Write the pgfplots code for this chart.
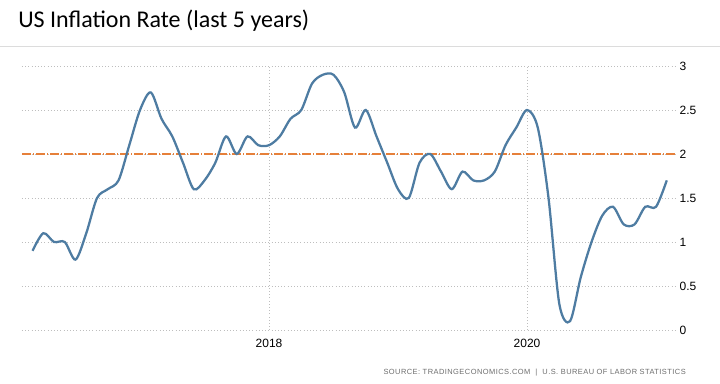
\documentclass[border=0pt]{standalone}
\usepackage{fontspec}
\usepackage{pgfplots}
\pgfplotsset{compat=1.18}
\setmainfont{Liberation Sans}
\newfontfamily\titlefont{Carlito}
\newfontfamily\srcfont[LetterSpace=6]{Liberation Sans}
\definecolor{lineblue}{RGB}{78,124,162}
\definecolor{dashorange}{RGB}{230,128,58}
\definecolor{gridgray}{RGB}{190,190,190}
\definecolor{sepgray}{RGB}{220,220,220}
\definecolor{srcgray}{RGB}{110,110,110}
\begin{document}
\begin{tikzpicture}
\useasboundingbox (0,0) rectangle (540pt,288pt);
\fill[white] (0,0) rectangle (540pt,288pt);
\node[anchor=base west, inner sep=0pt] at (13.5pt,267pt) {\titlefont\fontsize{18pt}{21pt}\selectfont US Inflation Rate (last 5 years)};
\draw[sepgray, line width=0.7pt] (0,253.5pt) -- (540pt,253.5pt);
\node[anchor=base east, inner sep=0pt, text=srcgray] at (514.5pt,6.75pt) {\srcfont\fontsize{5.6pt}{7pt}\selectfont SOURCE:\ TRADINGECONOMICS.COM\ \ |\ \ U.S.\ BUREAU\ OF\ LABOR\ STATISTICS};
\begin{axis}[
  at={(16.5pt,40.5pt)}, anchor=south west,
  scale only axis, width=490.5pt, height=198pt,
  xmin=1.02, xmax=61.86, ymin=0, ymax=3,
  clip=false,
  axis line style={draw=none},
  major tick length=0pt,
  xtick={24,48}, xticklabels={2018,2020},
  ytick={0,0.5,1,1.5,2,2.5,3},
  yticklabel pos=right,
  yticklabels={0,0.5,1,1.5,2,2.5,3},
  tick label style={font=\fontsize{9pt}{11pt}\selectfont},
  yticklabel style={anchor=west, inner sep=0pt, xshift=2.5pt},
  xticklabel style={anchor=north, inner sep=0pt, yshift=-6.5pt},
  xmajorgrids, ymajorgrids,
  grid style={dotted, gridgray, line width=0.6pt},
]
\addplot[dashorange, line width=2pt, dash pattern=on 6.6pt off 1.7pt on 0.5pt off 1.7pt] coordinates {(1.02,2) (61.86,2)};
\addplot[lineblue, line width=1.7pt, smooth] coordinates {
(2,0.9) (3,1.1) (4,1.0) (5,1.0) (6,0.8) (7,1.1) (8,1.5) (9,1.6) (10,1.7) (11,2.1)
(12,2.5) (13,2.7) (14,2.4) (15,2.2) (16,1.9) (17,1.6) (18,1.7) (19,1.9) (20,2.2) (21,2.0) (22,2.2) (23,2.1)
(24,2.1) (25,2.2) (26,2.4) (27,2.5) (28,2.8) (29,2.9) (30,2.9) (31,2.7) (32,2.3) (33,2.5) (34,2.2) (35,1.9)
(36,1.6) (37,1.5) (38,1.9) (39,2.0) (40,1.8) (41,1.6) (42,1.8) (43,1.7) (44,1.7) (45,1.8) (46,2.1) (47,2.3)
(48,2.5) (49,2.3) (50,1.5) (51,0.3) (52,0.1) (53,0.6) (54,1.0) (55,1.3) (56,1.4) (57,1.2) (58,1.2) (59,1.4)
(60,1.4) (61,1.7)
};
\end{axis}
\end{tikzpicture}
\end{document}
